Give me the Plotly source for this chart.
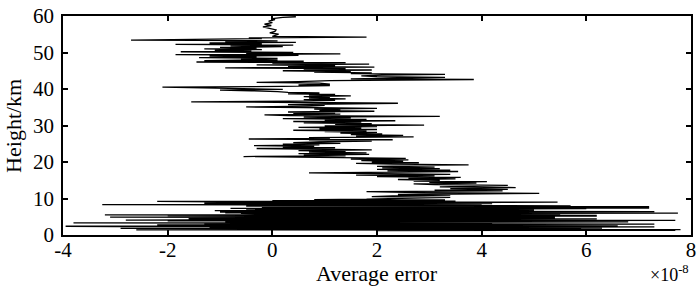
import plotly.graph_objects as go

heights = [
    1.2, 1.3, 1.4, 1.5, 1.6, 1.7, 1.8, 1.9, 2.0, 2.1, 2.2, 2.3, 2.4, 2.5, 2.6, 2.7, 2.8, 2.9,
    3.0, 3.1, 3.2, 3.3, 3.4, 3.5, 3.6, 3.7, 3.8, 3.9, 4.0, 4.1, 4.2, 4.3, 4.4, 4.5, 4.6, 4.7,
    4.8, 4.9, 5.0, 5.1, 5.2, 5.3, 5.4, 5.5, 5.6, 5.7, 5.8, 5.9, 6.0, 6.1, 6.2, 6.3, 6.4, 6.5,
    6.6, 6.7, 6.8, 6.9, 7.0, 7.1, 7.2, 7.3, 7.4, 7.5, 7.6, 7.7, 7.8, 7.9, 8.0, 8.1, 8.2, 8.3,
    8.4, 8.5, 8.6, 8.7, 8.8, 8.9, 9.0, 9.1, 9.2, 9.3, 9.4, 9.5, 9.6, 9.7, 9.8,
    9.9, 10.1, 10.3, 10.5, 10.7, 10.9, 11.1, 11.4, 11.6, 11.9, 12.1, 12.3, 12.5, 12.7,
    13.0, 13.2, 13.4, 13.6, 13.8, 14.0, 14.2, 14.4, 14.6, 14.8, 15.0, 15.2, 15.4, 15.6,
    15.8, 16.0, 16.2, 16.4, 16.6, 16.8, 17.0, 17.2, 17.4, 17.6, 17.8, 18.0, 18.2, 18.4,
    18.6, 18.8, 19.0, 19.2, 19.4, 19.6, 19.8, 20.0, 20.2, 20.4, 20.6, 20.8, 21.0, 21.2,
    21.5, 21.7, 21.9, 22.1, 22.3, 22.5, 22.7, 22.9, 23.1, 23.3, 23.5, 23.7, 23.9, 24.1,
    24.3, 24.5, 24.7, 24.9, 25.1, 25.3, 25.5, 25.7, 25.9, 26.1, 26.3, 26.5, 26.7, 26.9,
    27.1, 27.3, 27.5, 27.7, 27.9, 28.1, 28.3, 28.5, 28.7, 28.9, 29.1, 29.3, 29.5, 29.7,
    29.9, 30.1, 30.3, 30.5, 30.7, 30.9, 31.1, 31.3, 31.5, 31.7, 31.9, 32.1, 32.3, 32.5,
    32.7, 32.9, 33.1, 33.3, 33.5, 33.7, 33.9, 34.1, 34.3, 34.5, 34.7, 34.9, 35.1, 35.3,
    35.5, 35.7, 35.9, 36.1, 36.3, 36.5, 36.7, 36.9, 37.1, 37.3, 37.5, 37.7, 37.9, 38.1,
    38.3, 38.5, 38.7, 38.9, 39.1, 39.3, 39.5, 39.7, 39.9, 40.1, 40.3, 40.5, 40.7, 40.9,
    41.1, 41.3, 41.6, 41.8, 42.0, 42.3, 42.6, 42.8, 43.0, 43.2, 43.4, 43.6, 43.8, 44.0,
    44.2, 44.4, 44.6, 44.8, 45.0, 45.2, 45.4, 45.6, 45.8, 46.0, 46.2, 46.4, 46.6, 46.8,
    47.0, 47.2, 47.4, 47.6, 47.8, 48.0, 48.2, 48.4, 48.6, 48.8, 49.0, 49.2, 49.4, 49.6,
    49.8, 50.0, 50.2, 50.4, 50.6, 50.8, 51.0, 51.2, 51.4, 51.6, 51.8, 52.0, 52.2, 52.4,
    52.6, 52.8, 53.0, 53.2, 53.4, 53.6, 53.8, 54.0, 54.2, 54.4, 54.7, 55.0, 55.4, 55.8,
    56.2, 56.6, 57.0, 57.4, 57.8, 58.2, 58.6, 59.0, 59.3, 59.6, 59.8,
]

avg_error = [
    2.0, 7.7, -2.6, 7.8, -1.8, 5.9, -2.9, 6.3, -1.2, 4.4, 7.3, -3.0, -3.95, 6.6, -1.5, 5.8, -2.2, 4.9,
    7.3, -1.3, 4.2, -3.8, 3.6, -1.9, 6.8, -0.9, 4.5, -2.0, 7.7, -2.8, 5.0, -0.8, 6.2, -1.6, 3.9, 0.7,
    5.4, -3.1, 4.3, -1.0, 6.2, -2.0, 6.2, -3.2, 4.8, -1.0, 5.5, -0.6, 7.75, -0.9, 5.2, -1.0, 7.3, -0.8,
    7.3, -1.1, 5.0, 0.5, 4.2, -0.5, 6.0, -0.8, 7.2, -0.2, 4.3, 0.0, 7.2, -0.5, 5.7, 0.3, 4.0, -3.25,
    3.6, -0.3, 4.2, -1.3, 3.2, -0.5, 5.45, -1.0, -2.2, 3.5, 0.0, 2.0, 3.3, 0.8, 1.8,
    2.0, 3.0, 3.4, 1.9, 2.3, 3.4, 2.4, 5.1, 2.8, 1.8, 4.4, 3.1, 4.5, 3.4,
    4.65, 3.2, 4.4, 4.5, 3.1, 2.7, 3.9, 3.0, 4.1, 2.7, 3.2, 2.4, 3.5, 2.6,
    3.6, 2.0, 3.1, 1.6, 3.4, 1.8, 0.7, 2.4, 3.55, 2.2, 3.4, 2.0, 3.2, 2.1,
    3.1, 2.0, 2.8, 3.75, 2.3, 1.6, 2.8, 1.9, 2.5, 1.7, 2.6, 1.5, 2.55, 0.8,
    -0.55, 1.4, 0.6, 1.85, 0.5, 1.8, 0.7, 1.4, 0.5, 1.9, 0.9, -0.3, 1.2, 0.2,
    0.8, -0.35, 0.9, 0.2, 1.3, 0.4, 0.9, 1.9, 0.7, 2.3, -0.45, 1.1, 0.7, 2.7,
    1.6, 2.5, 1.5, 2.1, 1.3, 2.0, 1.0, 1.8, 0.4, 2.0, 0.9, 1.7, 0.5, 2.0,
    1.0, 2.9, 1.2, 1.9, 0.6, 1.7, 0.4, 2.35, 1.0, 1.8, 0.2, 1.5, 0.6, 3.2,
    0.3, -0.15, 1.3, 0.4, 1.2, 0.3, 1.95, 0.9, 1.3, 0.8, 2.0, 0.8, -0.5, 0.7,
    1.0, 0.3, 1.1, 2.4, 0.5, -1.55, 0.3, 1.2, 0.6, 1.4, 0.7, 1.1, 0.6, 1.5,
    0.7, 1.2, 0.3, 0.9, 0.3, 0.1, -0.4, -1.0, 0.2, -0.5, -1.3, -2.1, 0.2, 1.1,
    0.5, 1.1, 0.9, -0.3, 0.5, 1.1, 3.85, 1.5, 2.3, 3.3, 2.0, 1.7, 2.1, 3.3,
    1.5, 1.9, 0.8, 1.5, 0.2, 1.9, 0.6, 1.4, -0.9, 1.95, 0.3, 1.2, -0.3, 1.85,
    0.0, 1.4, -1.45, 0.6, -1.3, 0.1, -0.6, 0.1, -1.4, -0.3, -1.2, 0.5, -1.85, 1.3,
    -0.5, 0.4, -1.75, -0.4, -1.1, -0.2, -1.3, -0.3, -1.0, 0.2, -0.8, 0.4, -1.85, -0.2,
    -1.2, 0.45, -0.9, 0.1, -2.7, -0.5, -0.2, -0.45, 1.8, 0.0, 0.05, 0.12, -0.05, 0.05,
    0.07, -0.07, -0.18, -0.02, -0.15, 0.0, -0.07, 0.05, 0.0, 0.2, 0.45,
]

x_ticks = [-4, -2, 0, 2, 4, 6, 8]
y_ticks = [0, 10, 20, 30, 40, 50, 60]

font_family = "Liberation Serif, Times New Roman, serif"

fig = go.Figure()
fig.add_trace(go.Scatter(
    x=avg_error, y=heights, mode="lines",
    line=dict(color="black", width=1.3),
    showlegend=False, hoverinfo="skip",
))

axis_common = dict(
    showgrid=False, zeroline=False, showline=True, linecolor="black", linewidth=1.5,
    mirror="ticks", ticks="inside", ticklen=5, tickwidth=1.5, tickcolor="black",
    tickfont=dict(family=font_family, size=21, color="black"),
)

fig.update_layout(
    width=700, height=288,
    margin=dict(l=63, r=4, t=13, b=53),
    paper_bgcolor="white", plot_bgcolor="white",
    font=dict(family=font_family, color="black"),
    xaxis=dict(range=[-4, 8], tickvals=x_ticks, ticktext=[str(v) for v in x_ticks],
               ticklabelstandoff=-5, **axis_common),
    yaxis=dict(range=[0, 60], tickvals=y_ticks, ticktext=[str(v) for v in y_ticks],
               ticklabelstandoff=3, **axis_common),
    annotations=[
        dict(text="Average error", x=0.5, y=-0.175, xref="paper", yref="paper",
             xanchor="center", yanchor="middle", showarrow=False,
             font=dict(family=font_family, size=22, color="black")),
        dict(text="Height/km", x=-0.079, y=0.5, xref="paper", yref="paper",
             xanchor="center", yanchor="middle", textangle=-90, showarrow=False,
             font=dict(family=font_family, size=22, color="black")),
        dict(text="×10<sup>-8</sup>", x=1.0, y=-0.115, xref="paper", yref="paper",
             xanchor="right", yanchor="top", showarrow=False,
             font=dict(family=font_family, size=18, color="black")),
    ],
)

fig.write_html("out.html", config={"displayModeBar": False},
               post_script="document.body.style.margin='0';")
